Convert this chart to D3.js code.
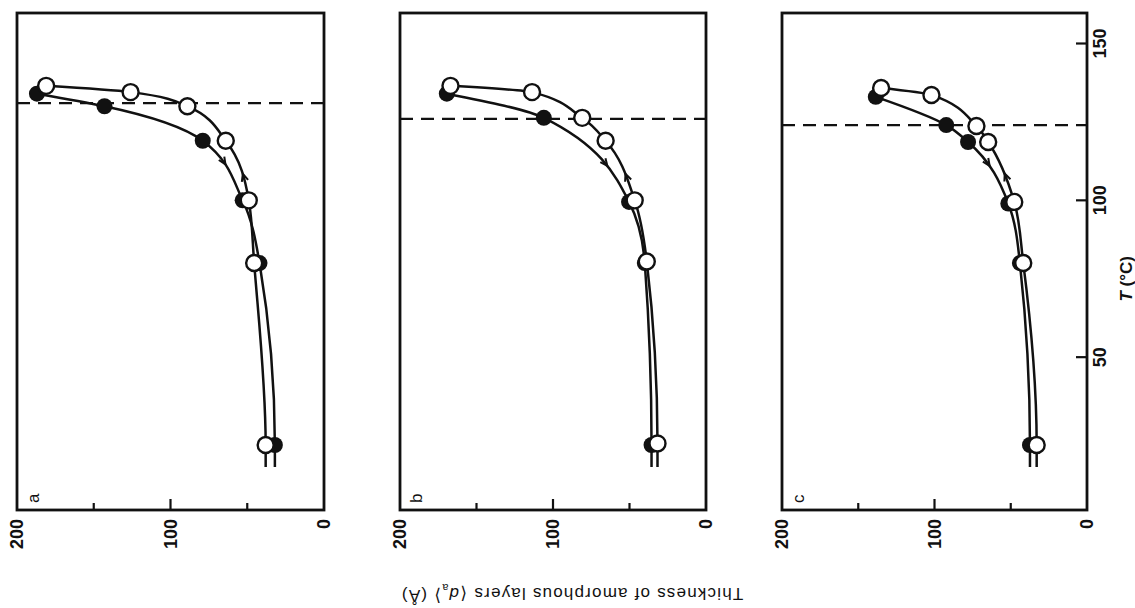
<!DOCTYPE html>
<html>
<head>
<meta charset="utf-8">
<script src="https://cdn.jsdelivr.net/npm/d3@7"></script>
<style>
  body { margin: 0; background: #fff; }
  text { font-family: "Liberation Sans", Arial, sans-serif; fill: #111; }
</style>
</head>
<body>
<svg id="chart"></svg>
<script>
const width = 1135;
const height = 608;

const panelNames = ['a', 'b', 'c'];
const panelLeft = [17, 400, 782];
const panelRight = [324, 706, 1087];
const frameTop = 13;
const frameBottom = 510;

const thickTicks = [150, 100, 50];
const thickLabels = [200, 100, 0];
const tempTicks = [50, 100, 150];
const tailT = 15;

// open circles = heating, filled circles = cooling (T in °C, d in Å)
const heatT_a = [22, 80, 100, 119, 130, 134.5, 136.5];
const heatD_a = [38, 45.5, 49, 64, 89, 126, 181];
const coolT_a = [22, 80, 100, 119, 130, 134];
const coolD_a = [32, 42, 53, 79, 143, 187];

const heatT_b = [22.5, 80.5, 100, 119, 126.3, 134.5, 136.5];
const heatD_b = [31.7, 38.7, 46.6, 65.6, 80.9, 113.7, 167];
const coolT_b = [22, 80, 99.5, 126.3, 134];
const coolD_b = [35.6, 40, 50.3, 106, 169.4];

const heatT_c = [22, 80, 99.5, 118.6, 123.7, 133.6, 135.8];
const heatD_c = [33, 41.8, 47.7, 64.8, 72.5, 102, 135];
const coolT_c = [22, 80, 99, 118.6, 124, 133];
const coolD_c = [37.4, 44, 51.6, 78, 92.3, 138.5];

const meltT = [131, 126, 124];
const arrowCoolT = [111.5, 111, 111];
const arrowHeatT = [108.5, 108.5, 108.5];

const heatT = [heatT_a, heatT_b, heatT_c];
const heatD = [heatD_a, heatD_b, heatD_c];
const coolT = [coolT_a, coolT_b, coolT_c];
const coolD = [coolD_a, coolD_b, coolD_c];

const svg = d3.select('#chart')
    .attr('width', width)
    .attr('height', height);

const y = d3.scaleLinear().domain([0, 150]).range([514, 43.5]);

function toPoints(ts, ds) {
    let pts = ts.map((t, i) => ({T: t, d: ds[i]}));
    pts.sort((p, q) => q.T - p.T);
    return pts;
}

function arrowAt(g, path, targetY, up) {
    const node = path.node();
    const len = node.getTotalLength();
    let best = 0, bestDist = 1e9;
    for (let s = 0; s <= len; s += 0.5) {
        const p = node.getPointAtLength(s);
        if (Math.abs(p.y - targetY) < bestDist) { bestDist = Math.abs(p.y - targetY); best = s; }
    }
    const p = node.getPointAtLength(best);
    const q = node.getPointAtLength(Math.min(len, best + 2));
    let ang = Math.atan2(q.y - p.y, q.x - p.x);   // path runs top -> bottom
    if (up) ang += Math.PI;
    const a = 8, w = 0.42;
    const pts = [
        [p.x - a * Math.cos(ang - w), p.y - a * Math.sin(ang - w)],
        [p.x, p.y],
        [p.x - a * Math.cos(ang + w), p.y - a * Math.sin(ang + w)]
    ];
    g.append('path')
        .attr('d', d3.line()(pts))
        .attr('fill', 'none')
        .attr('stroke', '#111')
        .attr('stroke-width', 2);
}

panelNames.forEach((name, i) => {
    const x = d3.scaleLinear().domain([200, 0]).range([panelLeft[i], panelRight[i]]);
    const g = svg.append('g');

    // frame
    g.append('rect')
        .attr('x', panelLeft[i]).attr('y', frameTop)
        .attr('width', panelRight[i] - panelLeft[i])
        .attr('height', frameBottom - frameTop)
        .attr('fill', 'none')
        .attr('stroke', '#111')
        .attr('stroke-width', 2.8);

    // thickness ticks (inward)
    g.selectAll('.tick').data(thickTicks).enter().append('line')
        .attr('x1', d => x(d)).attr('x2', d => x(d))
        .attr('y1', frameBottom)
        .attr('y2', d => frameBottom - (d === 100 ? 11 : 7))
        .attr('stroke', '#111').attr('stroke-width', 2.2);

    g.selectAll('.tlab').data(thickLabels).enter().append('text')
        .attr('transform', d => `translate(${x(d)},${frameBottom + 9}) rotate(-90)`)
        .attr('text-anchor', 'end')
        .attr('dy', '0.36em')
        .attr('font-size', 18)
        .attr('font-weight', 'bold')
        .text(d => d);

    // panel letter
    g.append('text')
        .attr('transform', `translate(${panelLeft[i] + 16},${frameBottom - 7}) rotate(-90)`)
        .attr('text-anchor', 'start')
        .attr('dy', '0.36em')
        .attr('font-size', 17)
        .text(name);

    // melting line
    g.append('line')
        .attr('x1', panelLeft[i]).attr('x2', panelRight[i])
        .attr('y1', y(meltT[i])).attr('y2', y(meltT[i]))
        .attr('stroke', '#111')
        .attr('stroke-width', 2.2)
        .attr('stroke-dasharray', '13,8');

    const heat = toPoints(heatT[i], heatD[i]);
    const cool = toPoints(coolT[i], coolD[i]);

    const line = d3.line()
        .x(d => x(d.d))
        .y(d => y(d.T))
        .curve(d3.curveMonotoneY);

    const heatLine = heat.concat([{T: tailT, d: heat[heat.length - 1].d}]);
    const coolLine = cool.concat([{T: tailT, d: cool[cool.length - 1].d}]);

    const hp = g.append('path').datum(heatLine)
        .attr('d', line).attr('fill', 'none')
        .attr('stroke', '#111').attr('stroke-width', 2.5);
    const cp = g.append('path').datum(coolLine)
        .attr('d', line).attr('fill', 'none')
        .attr('stroke', '#111').attr('stroke-width', 2.5);

    arrowAt(g, cp, y(arrowCoolT[i]), false);
    arrowAt(g, hp, y(arrowHeatT[i]), true);

    g.selectAll('.cool').data(cool).enter().append('circle')
        .attr('cx', d => x(d.d)).attr('cy', d => y(d.T))
        .attr('r', 8)
        .attr('fill', '#111');

    g.selectAll('.heat').data(heat).enter().append('circle')
        .attr('cx', d => x(d.d)).attr('cy', d => y(d.T))
        .attr('r', 8)
        .attr('fill', '#fff')
        .attr('stroke', '#111')
        .attr('stroke-width', 2.4);
});

// temperature axis on the right of the last panel
const right = panelRight[2];
svg.selectAll('.ttick').data(tempTicks).enter().append('line')
    .attr('x1', right).attr('x2', right - 11)
    .attr('y1', d => y(d)).attr('y2', d => y(d))
    .attr('stroke', '#111').attr('stroke-width', 2.2);

svg.selectAll('.tlabel').data(tempTicks).enter().append('text')
    .attr('transform', d => `translate(${right + 13},${y(d)}) rotate(-90)`)
    .attr('text-anchor', 'middle')
    .attr('dy', '0.36em')
    .attr('font-size', 18)
    .attr('font-weight', 'bold')
    .text(d => d);

const tTitle = svg.append('text')
    .attr('transform', `translate(${right + 39},${y(75)}) rotate(-90)`)
    .attr('text-anchor', 'middle')
    .attr('dy', '0.36em')
    .attr('font-size', 17)
    .attr('font-weight', 'bold');
tTitle.append('tspan').attr('font-style', 'italic').text('T');
tTitle.append('tspan').text(' (°C)');

// thickness title, drawn upside down as in the figure
const dTitle = svg.append('text')
    .attr('transform', `translate(572,594) rotate(180)`)
    .attr('text-anchor', 'middle')
    .attr('dy', '0.36em')
    .attr('font-size', 17)
    .attr('letter-spacing', 1.2);
dTitle.append('tspan').text('Thickness of amorphous layers \u27E8');
dTitle.append('tspan').attr('font-style', 'italic').text('d');
dTitle.append('tspan').attr('font-size', 11).attr('dy', '0.35em').text('a');
dTitle.append('tspan').attr('dy', '-0.35em').text('\u27E9 (Å)');
</script>
</body>
</html>
